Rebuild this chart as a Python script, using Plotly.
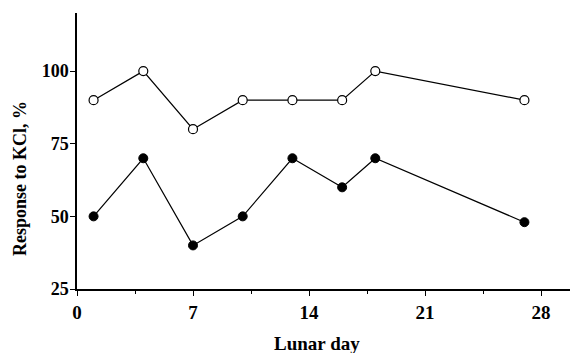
import plotly.graph_objects as go

days = [1, 4, 7, 10, 13, 16, 18, 27]
open_vals = [90, 100, 80, 90, 90, 90, 100, 90]
filled_vals = [50, 70, 40, 50, 70, 60, 70, 48]
x_ticks = [0, 7, 14, 21, 28]
x_minor = [3.5, 10.5, 17.5, 24.5]
y_ticks = [25, 50, 75, 100]
x_title = "Lunar day"
y_title = "Response to KCl, %"

font_family = "Liberation Serif, Times New Roman, serif"
fs = 19

fig = go.Figure()
fig.add_trace(go.Scatter(
    x=days, y=open_vals, mode="lines+markers",
    line=dict(color="black", width=1.2),
    marker=dict(symbol="circle", size=9, color="white", line=dict(color="black", width=1.2)),
    showlegend=False, cliponaxis=False,
))
fig.add_trace(go.Scatter(
    x=days, y=filled_vals, mode="lines+markers",
    line=dict(color="black", width=1.2),
    marker=dict(symbol="circle", size=9, color="black", line=dict(color="black", width=1)),
    showlegend=False, cliponaxis=False,
))

fig.update_layout(
    width=571, height=353,
    margin=dict(l=77, r=1, t=13, b=64),
    paper_bgcolor="white", plot_bgcolor="white",
    font=dict(family=font_family, size=fs, color="black"),
    xaxis=dict(
        range=[0, 29.75], tickvals=x_ticks, ticktext=[str(v) for v in x_ticks],
        showline=True, linecolor="black", linewidth=1.5,
        ticks="outside", ticklen=5, tickwidth=1.2, tickcolor="black",
        showgrid=False, zeroline=False, automargin=False,
        tickfont=dict(family=font_family, size=19, color="black", weight="bold"),
        minor=dict(tickvals=x_minor, ticks="outside", ticklen=3, tickwidth=1.2, tickcolor="black"),
    ),
    yaxis=dict(
        range=[25, 120], tickvals=y_ticks, ticktext=[str(v) for v in y_ticks],
        showline=True, linecolor="black", linewidth=1.5,
        ticks="outside", ticklen=5, tickwidth=1.2, tickcolor="black",
        showgrid=False, zeroline=False, automargin=False,
        ticklabelstandoff=-2,
        tickfont=dict(family=font_family, size=18, color="black", weight="bold"),
    ),
    annotations=[
        dict(text="<b>" + x_title + "</b>", xref="paper", yref="paper",
             x=0.4868, y=-0.1957, xanchor="center", yanchor="middle",
             showarrow=False, font=dict(family=font_family, size=19, color="black")),
        dict(text="<b>" + y_title + "</b>", xref="paper", yref="paper",
             x=-0.1156, y=0.3986, xanchor="center", yanchor="middle", textangle=-90,
             showarrow=False, font=dict(family=font_family, size=18, color="black")),
    ],
)

fig.write_html("out.html", config={"displayModeBar": False},
               post_script="document.body.style.margin='0';document.body.style.overflow='hidden';")
